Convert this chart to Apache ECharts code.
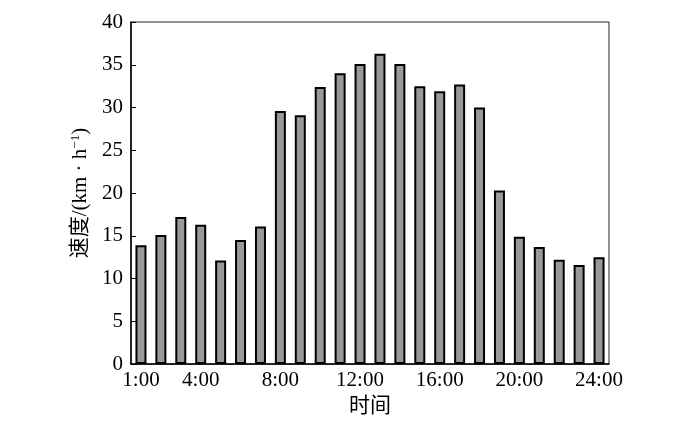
<!DOCTYPE html>
<html>
<head>
<meta charset="utf-8">
<script src="https://cdn.jsdelivr.net/npm/echarts@6/dist/echarts.min.js"></script>
<style>
  html, body { margin: 0; padding: 0; background: #fff; }
  #chart { width: 700px; height: 422px; }
</style>
</head>
<body>
<div id="chart"></div>
<script>
// 时间（每小时）
const hours = ['1:00', '2:00', '3:00', '4:00', '5:00', '6:00', '7:00', '8:00',
  '9:00', '10:00', '11:00', '12:00', '13:00', '14:00', '15:00', '16:00',
  '17:00', '18:00', '19:00', '20:00', '21:00', '22:00', '23:00', '24:00']
// 速度 km/h
const speed = [13.9, 15.1, 17.2, 16.3, 12.1, 14.5, 16.1, 29.6,
  29.1, 32.4, 34.0, 35.1, 36.3, 35.1, 32.5, 31.9,
  32.7, 30.0, 20.3, 14.9, 13.7, 12.2, 11.6, 12.5]
const shownLabels = ['1:00', '4:00', '8:00', '12:00', '16:00', '20:00', '24:00']
const tickedLabels = ['4:00', '8:00', '12:00', '16:00', '20:00', '24:00']

const font = '"Liberation Serif", "Noto Sans CJK SC", serif'

const chart = echarts.init(document.getElementById('chart'))
chart.setOption({
  animation: false,
  grid: {
    left: 131, right: 91, top: 22, bottom: 55,
    show: true, borderColor: '#222', borderWidth: 1
  },
  xAxis: {
    type: 'category',
    data: hours,
    name: '时间',
    nameLocation: 'middle',
    nameGap: 31,
    nameTextStyle: { fontFamily: font, fontSize: 21, color: '#000' },
    axisLine: { lineStyle: { color: '#000', width: 1.5 } },
    axisTick: {
      inside: true, length: 7, alignWithLabel: true,
      interval: (i, v) => tickedLabels.includes(v),
      lineStyle: { color: '#000' }
    },
    axisLabel: {
      interval: (i, v) => shownLabels.includes(v),
      fontFamily: font, fontSize: 21, color: '#000', margin: 6
    }
  },
  yAxis: {
    type: 'value',
    min: 0, max: 40, interval: 5,
    name: '{n|速度/(km · h}{s|−1}{n|)}',
    nameLocation: 'middle',
    nameGap: 40,
    nameRotate: 90,
    nameTextStyle: {
      rich: {
        n: { fontFamily: font, fontSize: 21, color: '#000' },
        s: { fontFamily: font, fontSize: 13, color: '#000', verticalAlign: 'top', padding: [0, 0, 9, 0] }
      }
    },
    splitLine: { show: false },
    axisLine: { show: true, lineStyle: { color: '#000', width: 1.5 } },
    axisTick: { show: true, inside: true, length: 5, lineStyle: { color: '#000' } },
    axisLabel: { fontFamily: font, fontSize: 21, color: '#000', margin: 8 }
  },
  series: [{
    type: 'bar',
    data: speed,
    barWidth: 11,
    itemStyle: { color: '#999999', borderColor: '#000', borderWidth: 2 }
  }]
})
</script>
</body>
</html>
